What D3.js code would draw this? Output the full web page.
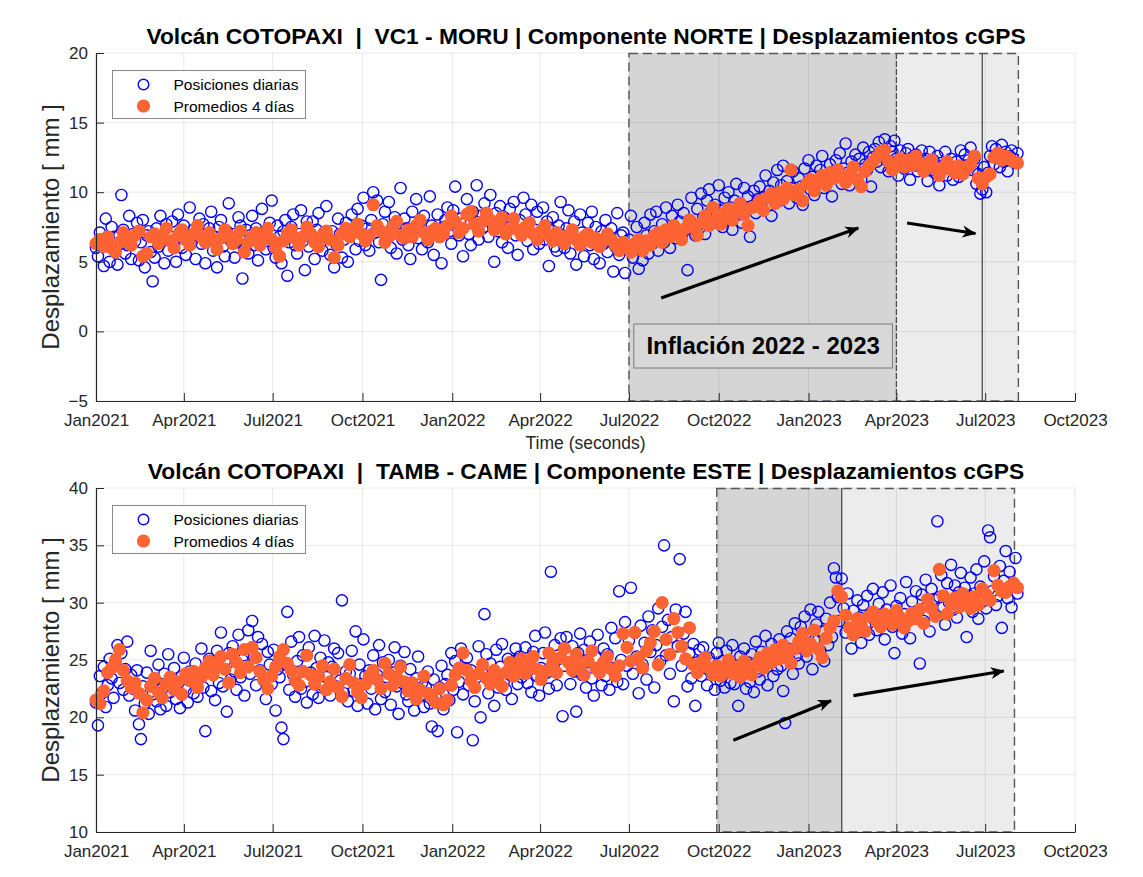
<!DOCTYPE html>
<html><head><meta charset="utf-8">
<script src="https://cdn.jsdelivr.net/npm/d3@7"></script>
<style>
body{margin:0;background:#fff}
svg{display:block}
text{font-family:"Liberation Sans",Arial,Helvetica,sans-serif}
</style>
</head><body><svg id="chart" width="1143" height="877"></svg>
<script>
// ---------------- DATA ----------------
const startDate = "2021-01-01";
const dailyStepDays = 2;   // daily positions (sampled)
const avgStepDays = 4;     // 4-day averages

const norteDaily = [
6.0,5.4,7.1,6.6,4.7,8.1,6.3,5.0,7.5,6.8, 5.9,4.8,6.9,9.8,7.3,5.6,6.2,8.3,5.2,7.0,
6.5,7.8,5.1,6.4,8.0,4.6,6.9,7.2,5.7,3.6, 5.3,7.4,6.1,8.3,6.6,4.9,7.7,5.8,6.8,7.9,
6.2,5.0,8.4,7.1,6.0,7.6,5.5,6.7,8.9,6.4, 7.3,5.2,6.9,8.1,6.3,7.7,4.9,6.6,7.4,8.6,
5.8,6.8,4.6,7.5,8.0,6.1,5.4,7.2,9.2,6.5, 7.0,5.3,6.4,8.2,7.6,3.8,6.0,7.3,5.6,6.9,
8.3,6.2,7.4,5.1,6.7,8.8,7.1,5.9,6.5,7.8, 9.4,6.0,5.3,7.6,6.8,4.9,7.2,8.0,4.0,6.4,
7.5,8.4,6.2,5.6,7.0,8.7,6.5,4.4,7.9,6.1, 6.8,7.9,5.2,7.3,8.5,6.4,5.8,7.1,9.0,6.7,
5.5,7.2,4.6,6.3,8.1,7.0,5.3,6.6,7.8,5.0, 6.9,8.4,7.3,5.9,8.8,6.5,7.6,9.6,6.2,7.4,
5.8,8.0,10.0,7.1,9.4,6.4,3.7,7.7,8.6,6.9, 9.3,6.0,7.5,8.2,5.6,7.0,10.3,6.6,8.1,7.4,
6.2,5.2,8.6,7.3,9.5,6.7,7.9,5.9,8.3,7.0, 6.4,9.7,7.6,5.5,7.2,8.4,6.8,4.9,7.5,8.0,
8.9,7.2,6.3,8.7,10.4,7.5,6.9,8.1,5.4,7.8, 9.5,7.0,6.2,8.6,7.9,10.5,6.6,8.3,7.4,9.2,
8.1,6.8,9.8,7.7,5.0,8.5,7.2,9.0,6.4,8.2, 7.3,6.0,8.8,7.6,9.3,6.9,5.5,8.0,7.1,9.6,
8.4,6.5,7.8,9.1,5.9,7.3,8.6,6.3,7.0,8.9, 6.6,7.9,4.7,7.3,8.2,6.1,5.8,7.6,9.3,6.9,
6.0,7.4,8.7,5.6,6.8,7.9,4.8,6.5,8.4,7.1, 5.4,6.9,7.8,6.2,8.6,5.2,7.5,6.6,4.9,7.2,
6.3,8.0,5.7,6.8,7.4,4.3,6.1,8.5,5.5,6.9, 7.1,4.2,5.9,6.6,8.3,5.3,6.2,7.5,4.5,6.4,
5.1,7.8,6.9,5.6,8.4,6.3,7.2,8.6,5.8,7.0, 7.7,6.4,8.9,7.1,6.0,8.3,7.5,6.7,9.1,7.9,
6.8,8.5,7.3,4.4,8.0,9.6,7.7,6.9,8.8,7.4, 9.9,8.2,7.0,9.4,10.2,8.6,7.8,9.1,8.3,10.5,
8.7,7.5,9.6,8.1,10.0,8.9,7.3,9.4,10.6,8.4, 9.2,7.8,10.3,8.8,9.7,6.8,9.0,10.1,8.5,9.5,
10.4,8.9,9.6,11.2,9.0,10.1,8.3,10.7,9.8,11.6, 9.4,10.5,11.9,9.9,10.8,9.2,10.3,11.5,10.0,9.6,
11.0,10.4,9.1,11.7,10.6,12.3,10.2,11.1,9.8,11.9, 10.7,11.6,12.6,10.3,11.2,10.9,12.0,9.7,11.5,12.3,
11.1,12.8,10.6,11.7,13.5,11.4,10.5,12.2,11.8,12.7, 11.3,12.4,10.9,13.2,12.0,11.6,12.9,10.4,12.5,13.1,
12.2,13.6,11.8,12.7,13.8,12.3,11.5,13.3,12.9,13.7, 12.4,11.2,13.0,12.1,11.7,12.8,13.1,10.9,12.5,11.9,
12.7,11.5,12.2,13.0,11.8,12.4,10.8,12.9,11.6,12.3, 11.4,12.6,10.5,12.1,11.8,12.9,11.2,11.7,12.4,10.9,
11.8,12.2,11.1,13.0,11.5,12.7,11.9,12.3,13.2,11.6, 12.4,10.6,11.3,9.9,10.2,11.8,10.0,11.4,12.6,13.3,
12.0,13.1,12.7,11.8,13.4,12.2,12.9,11.5,12.6,13.0, 12.4,12.1,12.8
];

const norteAvg = [
6.3,6.6,6.1,6.8,6.0,5.7,6.4,7.1,6.5,6.2, 6.9,7.2,5.4,5.6,6.8,7.0,6.3,6.7,7.4,6.5,
6.0,6.9,7.3,6.6,6.2,7.0,7.6,6.8,6.4,7.1, 6.5,5.9,6.7,7.3,6.9,6.3,6.6,7.2,5.7,6.4,
6.8,7.1,6.2,6.9,7.4,6.6,6.0,5.4,6.5,7.0, 7.3,6.7,6.2,6.8,7.5,7.0,6.4,6.1,6.9,7.2,
6.6,5.3,6.2,7.0,7.4,6.8,7.3,7.7,7.0,6.5, 6.9,9.1,7.6,7.2,6.4,6.8,7.5,7.9,6.9,6.7,
7.3,6.8,7.6,8.0,7.1,6.6,7.2,7.4,6.8,7.0, 7.6,8.3,7.9,7.1,7.4,8.4,8.6,7.7,7.2,7.9,
8.5,8.0,7.3,7.6,8.2,7.0,7.4,8.1,7.3,6.9, 7.5,7.8,7.0,6.6,7.2,7.6,6.9,6.5,7.1,6.8,
6.3,6.9,7.3,6.6,6.2,6.8,7.0,6.4,6.7,6.1, 6.5,7.0,6.6,6.2,5.8,6.4,6.0,5.7,6.3,6.6,
5.8,6.5,6.2,6.9,7.1,6.4,7.3,6.8,7.6,7.2, 6.6,7.4,8.0,7.5,6.9,7.8,8.3,7.6,8.9,8.1,
7.7,8.5,8.8,8.0,8.6,9.2,8.4,7.6,8.9,9.0, 9.4,8.7,9.6,9.9,9.2,10.0,9.5,10.3,11.6,9.8,
10.2,9.4,10.6,10.9,10.1,10.8,11.2,10.5,11.4,11.0, 11.6,11.1,10.7,11.3,11.8,10.9,10.4,11.5,11.9,12.2,
12.5,12.9,13.0,12.2,11.6,12.0,12.4,11.8,12.3,11.9, 12.6,12.1,11.5,11.9,12.3,11.7,11.2,11.8,12.2,11.6,
11.4,11.9,11.3,11.7,12.0,12.6,11.0,10.6,11.1,11.3, 12.5,12.8,12.3,12.6,12.4,12.2,12.1
];

const esteDaily = [
21.3,19.3,23.6,22.1,24.4,20.9,22.8,25.1,23.4,21.7, 24.9,26.3,23.0,25.6,22.4,24.2,26.6,21.9,23.7,22.5,
20.6,24.1,19.4,18.1,22.7,21.2,23.9,20.3,25.8,22.0, 23.3,21.4,24.6,20.7,22.5,23.8,21.0,25.5,22.2,23.1,
24.3,21.6,22.9,20.8,23.6,25.2,22.4,21.3,24.0,23.2, 22.1,24.7,21.8,23.4,26.0,22.6,18.8,23.9,25.1,22.3,
24.2,21.5,25.8,23.0,27.4,22.7,24.9,20.5,25.6,23.3, 26.2,24.0,22.4,27.2,23.5,25.0,21.9,24.5,27.6,23.8,
28.4,25.3,22.8,27.0,24.1,26.4,23.2,21.6,25.7,24.6, 22.9,25.9,20.6,24.2,23.5,19.1,18.1,24.6,29.2,22.4,
26.6,23.7,21.8,24.9,27.0,22.5,25.4,23.1,21.3,26.1, 23.9,22.0,27.1,24.3,21.7,25.2,22.8,26.7,23.5,24.8,
21.9,24.4,26.0,22.7,25.6,23.2,30.2,22.1,24.0,21.4, 23.8,25.8,22.3,27.5,21.0,24.6,22.9,26.8,23.6,21.2,
24.1,22.5,25.4,20.7,23.7,26.3,21.6,24.8,22.2,23.5, 25.0,21.1,23.9,26.1,22.7,20.3,24.5,23.0,25.7,22.0,
21.4,24.2,22.8,20.6,23.4,25.3,21.9,23.0,20.9,22.6, 24.0,21.2,19.2,23.3,21.8,18.8,22.6,24.5,20.7,22.9,
23.7,21.5,25.6,22.4,24.9,18.7,23.1,26.0,22.0,24.3, 25.2,22.8,24.1,18.0,21.4,23.5,26.2,20.0,23.8,29.0,
25.5,22.1,24.7,23.3,21.0,25.9,22.6,24.4,26.4,23.2, 22.4,25.1,23.7,21.6,24.9,26.0,22.9,25.3,23.5,24.6,
26.1,23.0,24.8,22.2,25.7,27.1,23.6,21.9,24.3,25.6, 27.4,23.9,22.5,32.7,24.7,26.3,22.8,25.1,26.9,20.1,
24.5,27.0,25.3,22.9,26.2,24.0,20.5,25.6,27.3,23.7, 25.9,22.6,24.8,26.6,23.4,21.9,25.2,27.2,24.1,22.8,
26.0,23.6,25.5,22.4,27.8,24.3,26.9,23.1,31.0,25.0, 22.9,28.3,24.5,26.7,31.3,23.8,27.4,25.3,22.1,28.0,
24.6,26.5,23.3,28.8,25.7,27.6,22.6,26.3,29.5,24.9, 27.9,35.0,25.4,28.5,23.8,27.0,21.4,29.4,26.2,33.8,
24.5,27.3,29.2,22.7,25.6,23.4,26.4,21.0,24.8,25.9, 23.6,26.1,24.3,22.8,25.2,23.9,24.7,22.4,25.6,26.5,
23.2,24.9,22.6,25.8,24.1,23.0,26.3,22.9,24.5,21.0, 25.3,23.7,26.0,22.5,24.8,23.1,25.5,22.2,26.6,24.0,
23.3,25.7,24.4,27.1,22.8,25.0,26.4,23.6,25.9,24.2, 26.8,24.5,22.3,19.5,27.5,25.1,26.9,23.8,28.2,25.4,
24.7,27.9,26.0,28.8,25.3,27.2,29.4,24.2,26.7,28.1, 29.2,25.8,27.5,24.9,28.6,26.3,30.0,27.0,33.0,32.2,
30.5,28.4,32.1,29.5,27.4,30.8,28.1,26.0,29.3,27.6, 30.2,28.7,26.5,29.8,28.0,30.6,27.2,29.1,31.2,28.5,
27.6,29.9,28.3,30.9,26.8,29.4,28.6,31.5,27.9,25.6, 29.7,28.2,30.4,27.3,29.0,31.8,28.5,26.9,30.1,28.8,
31.0,29.3,24.7,30.7,28.4,32.0,29.8,27.5,31.2,30.3, 28.9,37.1,30.5,32.4,29.6,28.1,31.7,30.0,33.3,29.4,
31.5,28.7,30.9,32.6,29.9,31.3,27.0,30.6,32.2,29.2, 30.8,32.9,28.6,31.4,30.1,33.6,29.5,36.3,35.7,31.0,
32.3,29.8,30.6,33.2,27.8,31.9,34.5,30.4,32.7,29.6, 31.6,33.9,30.8
];

const esteAvg = [
21.5,21.2,22.3,23.9,24.3,25.0,25.9,24.1,23.2,22.6, 23.0,22.1,20.4,21.5,22.7,23.4,22.2,21.7,22.9,23.5,
22.4,23.1,22.0,23.8,23.2,24.0,22.6,23.5,24.3,24.9, 23.7,24.6,25.3,24.2,23.0,25.5,24.8,23.9,25.9,24.4,
26.1,25.2,24.0,23.3,22.5,23.6,24.4,25.3,25.9,24.7, 24.1,23.2,22.8,24.0,25.4,23.7,22.9,23.6,24.5,22.4,
23.1,24.2,22.6,21.8,23.4,24.6,23.0,22.2,21.7,22.9, 23.6,24.1,23.3,22.5,24.7,23.8,22.8,23.5,24.4,23.1,
22.3,23.0,21.6,22.4,23.6,22.1,21.8,21.3,22.5,21.1, 21.5,22.8,23.7,24.3,25.6,24.1,23.2,22.6,23.8,24.6,
23.4,22.9,24.1,23.5,22.7,23.9,24.8,23.6,24.4,25.1, 23.8,24.5,25.3,24.2,23.3,24.0,25.6,24.7,23.9,25.2,
26.0,24.8,24.1,25.5,24.6,23.7,24.9,25.8,24.3,23.9, 24.8,25.3,24.2,23.6,24.5,27.3,26.1,24.9,27.4,25.2,
24.3,25.8,26.5,27.5,24.6,30.0,26.8,25.5,28.6,27.4, 26.2,25.1,27.8,24.6,23.9,24.8,25.2,24.3,23.7,24.5,
23.6,24.2,25.0,23.8,24.4,23.5,24.9,24.1,23.7,24.6, 25.2,24.3,25.6,24.8,25.9,25.1,26.3,25.4,24.7,26.0,
26.6,27.3,25.8,26.4,27.6,26.0,25.2,26.9,27.8,28.4, 31.0,30.5,28.9,27.8,27.2,28.6,28.0,27.5,28.8,29.2,
28.3,27.9,29.0,28.5,28.1,29.3,28.7,27.8,28.4,29.1, 28.6,29.4,28.2,30.3,29.5,28.8,32.9,30.6,29.0,29.9,
30.4,29.6,30.8,30.1,29.5,30.5,29.8,31.2,30.7,30.2, 32.8,31.5,31.0,30.9,31.4,31.7,31.3
];

const xTickDates = ["2021-01-01","2021-04-01","2021-07-01","2021-10-01","2022-01-01","2022-04-01",
                    "2022-07-01","2022-10-01","2023-01-01","2023-04-01","2023-07-01","2023-10-01"];
const xTickLabels = ["Jan2021","Apr2021","Jul2021","Oct2021","Jan2022","Apr2022",
                     "Jul2022","Oct2022","Jan2023","Apr2023","Jul2023","Oct2023"];
const yTicksTop = [-5,0,5,10,15,20];
const yTicksBottom = [10,15,20,25,30,35,40];
const legendLabels = ["Posiciones diarias","Promedios 4 días"];
const titles = [
  "Volcán COTOPAXI  |  VC1 - MORU | Componente NORTE | Desplazamientos cGPS",
  "Volcán COTOPAXI  |  TAMB - CAME | Componente ESTE | Desplazamientos cGPS"
];
const yLabel = "Desplazamiento [ mm ]";
const xLabel = "Time (seconds)";
const boxText = "Inflación 2022 - 2023";

// shaded periods: [start, end, kind]
const periodsTop = [["2022-07-01","2023-04-01","dark"],["2023-04-01","2023-06-28","light"],["2023-06-28","2023-08-04","light"]];
const periodsBottom = [["2022-09-29","2023-02-04","dark"],["2023-02-04","2023-07-31","light"]];
// arrows [date0, v0, date1, v1]
const arrowsTop = [["2022-08-03",2.4,"2023-02-21",7.43],["2023-04-12",7.79,"2023-06-21",7.03]];
const arrowsBottom = [["2022-10-16",18.0,"2023-01-24",21.45],["2023-02-16",21.9,"2023-07-20",24.04]];

// ---------------- DRAW ----------------
const parse = d3.utcParse("%Y-%m-%d");
const t0 = parse(startDate);
const svg = d3.select("#chart");
svg.append("rect").attr("width",1143).attr("height",877).attr("fill","#fff");

const defs = svg.append("defs");
defs.append("marker").attr("id","ah").attr("viewBox","-14 -7 16 14")
  .attr("refX",0).attr("refY",0).attr("markerWidth",16).attr("markerHeight",14)
  .attr("markerUnits","userSpaceOnUse").attr("orient","auto")
  .append("path").attr("d","M1,0 L-13,-6 L-9,0 L-13,6 Z").attr("fill","#000");

const X0 = 96, X1 = 1075;
const x = d3.scaleUtc().domain([parse("2021-01-01"), parse("2023-10-01")]).range([X0, X1]);
const axisColor = "#262626";

function drawPanel(cfg){
  const y = d3.scaleLinear().domain(cfg.yDomain).range([cfg.bottom, cfg.top]);
  const g = svg.append("g");
  const H = cfg.bottom - cfg.top;

  const dashStart = parse(cfg.periods[0][0]);
  const dashEnd = parse(cfg.periods[cfg.periods.length-1][1]);
  g.selectAll("rect.shade").data(cfg.periods).join("rect")
    .attr("x", d=>x(parse(d[0]))).attr("width", d=>x(parse(d[1]))-x(parse(d[0])))
    .attr("y", cfg.top).attr("height", H)
    .attr("fill", d=>d[2]==="dark" ? "#d5d5d5" : "#ececec");

  const tickDates = xTickDates.map(parse);
  g.selectAll("line.gx").data(tickDates).join("line")
    .attr("x1",d=>x(d)).attr("x2",d=>x(d)).attr("y1",cfg.top).attr("y2",cfg.bottom)
    .attr("stroke","#000").attr("stroke-opacity",0.09).attr("stroke-width",1);
  g.selectAll("line.gy").data(cfg.yTicks).join("line")
    .attr("x1",X0).attr("x2",X1).attr("y1",d=>y(d)).attr("y2",d=>y(d))
    .attr("stroke","#000").attr("stroke-opacity",0.09).attr("stroke-width",1);

  cfg.periods.slice(1).forEach((p,i)=>{
    const xx = x(parse(p[0]));
    g.append("line").attr("x1",xx).attr("x2",xx).attr("y1",cfg.top).attr("y2",cfg.bottom)
      .attr("stroke", "#4a4a4a").attr("stroke-width",1.3)
      .attr("stroke-dasharray", cfg.innerDash[i] || null);
  });
  g.append("rect").attr("x",x(dashStart)).attr("y",cfg.top+0.5)
    .attr("width",x(dashEnd)-x(dashStart)).attr("height",H-0.5)
    .attr("fill","none").attr("stroke","#555").attr("stroke-width",1.4)
    .attr("stroke-dasharray","9,5");

  const daily = cfg.daily.map((v,i)=>({d:d3.utcDay.offset(t0,i*dailyStepDays), v}));
  const avg = cfg.avg.map((v,i)=>({d:d3.utcDay.offset(t0,i*avgStepDays), v}));
  g.append("g").selectAll("circle").data(daily).join("circle")
    .attr("cx",d=>x(d.d)).attr("cy",d=>y(d.v)).attr("r",5.6)
    .attr("fill","none").attr("stroke","#0000ff").attr("stroke-width",1.4);
  g.append("g").selectAll("circle").data(avg).join("circle")
    .attr("cx",d=>x(d.d)).attr("cy",d=>y(d.v)).attr("r",6.6)
    .attr("fill","#fd6333");

  const ax = d3.axisBottom(x).tickValues(tickDates)
    .tickFormat((d,i)=>xTickLabels[i]).tickSizeInner(-8).tickSizeOuter(0).tickPadding(13);
  const gx = g.append("g").attr("transform",`translate(0,${cfg.bottom})`).call(ax);
  const ayAxis = d3.axisLeft(y).tickValues(cfg.yTicks).tickFormat(d3.format("d"))
    .tickSizeInner(-8).tickSizeOuter(0).tickPadding(8);
  const gy = g.append("g").attr("transform",`translate(${X0},0)`).call(ayAxis);
  [gx,gy].forEach(a=>{
    a.select(".domain").attr("stroke",axisColor).attr("stroke-width",1.2);
    a.selectAll(".tick line").attr("stroke",axisColor).attr("stroke-width",1);
    a.selectAll(".tick text").attr("fill",axisColor).attr("font-size",17)
      .attr("font-family","'Liberation Sans',Arial,sans-serif");
  });

  cfg.arrows.forEach(a=>{
    g.append("line").attr("x1",x(parse(a[0]))).attr("y1",y(a[1]))
      .attr("x2",x(parse(a[2]))).attr("y2",y(a[3]))
      .attr("stroke","#000").attr("stroke-width",3.2).attr("marker-end","url(#ah)");
  });

  svg.append("text").attr("x",(X0+X1)/2+0.5).attr("y",cfg.top-9)
    .attr("text-anchor","middle").attr("font-weight","bold").attr("font-size",22.8)
    .style("white-space","pre").attr("fill","#000").text(cfg.title);
  svg.append("text").attr("transform",`translate(59,${(cfg.top+cfg.bottom)/2}) rotate(-90)`)
    .attr("text-anchor","middle").attr("font-size",24).attr("fill",axisColor).text(yLabel);

  const lg = svg.append("g").attr("transform",`translate(${X0+16.5},${cfg.top+17.5})`);
  lg.append("rect").attr("width",193).attr("height",48).attr("fill","#fff")
    .attr("stroke","#8a8a8a").attr("stroke-width",1);
  lg.append("circle").attr("cx",31).attr("cy",14).attr("r",5.3)
    .attr("fill","none").attr("stroke","#0000ff").attr("stroke-width",1.4);
  lg.append("circle").attr("cx",31).attr("cy",35.5).attr("r",6.6).attr("fill","#fd6333");
  lg.selectAll("text").data(legendLabels).join("text")
    .attr("x",61).attr("y",(d,i)=>i===0?19.5:41).attr("font-size",15.5).attr("fill","#000").text(d=>d);

  return {y};
}

const topPanel = drawPanel({top:53, bottom:401, yDomain:[-5,20], yTicks:yTicksTop, title:titles[0],
  daily:norteDaily, avg:norteAvg, periods:periodsTop, innerDash:["6,2",null], arrows:arrowsTop});

svg.append("text").attr("x",(X0+X1)/2).attr("y",449).attr("text-anchor","middle")
  .attr("font-size",17.5).attr("fill",axisColor).text(xLabel);

{
  const y = topPanel.y;
  const bx0 = x(parse("2022-07-06")), bx1 = x(parse("2023-03-28"));
  const by0 = y(0.53), by1 = y(-2.63);
  svg.append("rect").attr("x",bx0).attr("y",by0).attr("width",bx1-bx0).attr("height",by1-by0)
    .attr("fill","#d8d8d8").attr("stroke","#7a7a7a").attr("stroke-width",1);
  svg.append("text").attr("x",(bx0+bx1)/2).attr("y",y(-1.62)).attr("text-anchor","middle")
    .attr("font-weight","bold").attr("font-size",24).attr("fill","#000").text(boxText);
}

drawPanel({top:488, bottom:832, yDomain:[10,40], yTicks:yTicksBottom, title:titles[1],
  daily:esteDaily, avg:esteAvg, periods:periodsBottom, innerDash:[null], arrows:arrowsBottom});
</script>
</body></html>
